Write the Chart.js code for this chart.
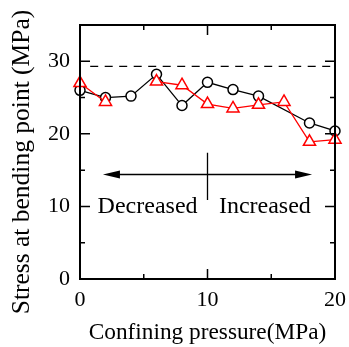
<!DOCTYPE html>
<html>
<head>
<meta charset="utf-8">
<script src="https://cdn.jsdelivr.net/npm/chart.js@4/dist/chart.umd.min.js"></script>
<style>
html,body{margin:0;padding:0;background:#fff;}
#wrap{width:349px;height:347px;position:relative;}
</style>
</head>
<body>
<div id="wrap"><canvas id="c" width="349" height="347"></canvas></div>
<script>
const pressure = [0, 2, 4, 6, 8, 10, 12, 14, 16, 18, 20];
const circleStress = [26.0, 25.0, 25.2, 28.2, 23.9, 27.1, 26.1, 25.2, null, 21.5, 20.4];
const triangleStress = [27.0, 24.4, null, 27.2, 26.7, 24.1, 23.5, 24.0, 24.4, 18.9, 19.2];
const referenceLine = [{x: 0.8, y: 29.3}, {x: 20, y: 29.3}];
const xTickLabels = [0, 10, 20];
const yTickLabels = [0, 10, 20, 30];
const xTitle = 'Confining pressure(MPa)';
const yTitle = 'Stress at bending point (MPa)';
const leftNote = 'Decreased';
const rightNote = 'Increased';

const FONT = "'Liberation Serif', 'Times New Roman', serif";

function toPoints(xs, ys) {
  return xs.map((x, i) => ({x: x, y: ys[i]}));
}

const framePlugin = {
  id: 'framePlugin',
  afterDatasetsDraw(chart) {
    const ctx = chart.ctx;
    const xs = chart.scales.x, ys = chart.scales.y;
    const a = chart.chartArea;
    ctx.save();
    ctx.strokeStyle = '#000';
    ctx.lineWidth = 1.5;
    for (let v = 5; v < 20; v += 5) {
      const px = xs.getPixelForValue(v);
      const len = v % 10 === 0 ? 10 : 5;
      ctx.beginPath();
      ctx.moveTo(px, a.bottom); ctx.lineTo(px, a.bottom - len);
      ctx.moveTo(px, a.top); ctx.lineTo(px, a.top + len);
      ctx.stroke();
    }
    for (let v = 5; v < 35; v += 5) {
      const py = ys.getPixelForValue(v);
      const len = v % 10 === 0 ? 10 : 5;
      ctx.beginPath();
      ctx.moveTo(a.left, py); ctx.lineTo(a.left + len, py);
      ctx.moveTo(a.right, py); ctx.lineTo(a.right - len, py);
      ctx.stroke();
    }
    ctx.lineWidth = 2;
    ctx.strokeRect(a.left, a.top, a.right - a.left, a.bottom - a.top);

    const yA = ys.getPixelForValue(14.4);
    const x1 = xs.getPixelForValue(1.8), x2 = xs.getPixelForValue(18.2);
    const xm = xs.getPixelForValue(10);
    ctx.lineWidth = 1.3;
    ctx.beginPath();
    ctx.moveTo(x1 + 10, yA); ctx.lineTo(x2 - 10, yA);
    ctx.moveTo(xm, ys.getPixelForValue(17.4)); ctx.lineTo(xm, ys.getPixelForValue(10.9));
    ctx.stroke();
    ctx.fillStyle = '#000';
    ctx.beginPath();
    ctx.moveTo(x1, yA); ctx.lineTo(x1 + 17, yA - 4); ctx.lineTo(x1 + 17, yA + 4); ctx.closePath();
    ctx.fill();
    ctx.beginPath();
    ctx.moveTo(x2, yA); ctx.lineTo(x2 - 17, yA - 4); ctx.lineTo(x2 - 17, yA + 4); ctx.closePath();
    ctx.fill();

    ctx.font = '24px ' + FONT;
    ctx.textAlign = 'center';
    ctx.textBaseline = 'alphabetic';
    const yT = ys.getPixelForValue(9.1);
    ctx.fillText(leftNote, xs.getPixelForValue(5.3), yT);
    ctx.fillText(rightNote, xs.getPixelForValue(14.5), yT);

    ctx.save();
    ctx.translate(22, (a.top + a.bottom) / 2 + 10);
    ctx.rotate(-Math.PI / 2);
    ctx.font = '25.5px ' + FONT;
    ctx.textAlign = 'center';
    ctx.textBaseline = 'middle';
    ctx.fillText(yTitle, 0, 0);
    ctx.restore();
    ctx.restore();
  }
};

new Chart(document.getElementById('c'), {
  type: 'line',
  data: {
    datasets: [
      {
        label: 'triangles',
        data: toPoints(pressure, triangleStress),
        borderColor: '#ff0000',
        backgroundColor: '#ffffff',
        borderWidth: 1.3,
        pointStyle: 'triangle',
        pointRadius: 7,
        pointBorderWidth: 1.5,
        pointBorderColor: '#ff0000',
        pointBackgroundColor: '#ffffff',
        spanGaps: false,
        tension: 0,
        clip: false,
        order: 1
      },
      {
        label: 'circles',
        data: toPoints(pressure, circleStress),
        borderColor: '#000000',
        backgroundColor: '#ffffff',
        borderWidth: 1.3,
        pointStyle: 'circle',
        pointRadius: 5,
        pointBorderWidth: 1.5,
        pointBorderColor: '#000000',
        pointBackgroundColor: '#ffffff',
        spanGaps: true,
        tension: 0,
        clip: false,
        order: 2
      },
      {
        label: 'reference',
        data: referenceLine,
        borderColor: '#000000',
        borderWidth: 1.3,
        borderDash: [8, 6.5],
        pointRadius: 0,
        tension: 0,
        order: 3
      }
    ]
  },
  options: {
    responsive: false,
    animation: false,
    devicePixelRatio: 1,
    layout: {padding: {top: 25, right: 14, left: 0, bottom: 0}},
    plugins: {legend: {display: false}, tooltip: {enabled: false}},
    scales: {
      x: {
        type: 'linear',
        min: 0, max: 20,
        afterBuildTicks(s) { s.ticks = xTickLabels.map(v => ({value: v})); },
        afterFit(s) { s.height = 68; s.paddingLeft = 0; s.paddingRight = 0; },
        grid: {display: false, drawTicks: false},
        border: {display: false},
        ticks: {
          color: '#000', padding: 8, maxRotation: 0,
          font: {family: FONT, size: 22}
        },
        title: {
          display: true, text: xTitle, color: '#000',
          font: {family: FONT, size: 23.3, lineHeight: 1.2},
          padding: {top: 0, bottom: 0}
        }
      },
      y: {
        type: 'linear',
        min: 0, max: 35,
        afterBuildTicks(s) { s.ticks = yTickLabels.map(v => ({value: v})); },
        afterFit(s) { s.width = 80; s.paddingTop = 0; s.paddingBottom = 0; },
        grid: {display: false, drawTicks: false},
        border: {display: false},
        ticks: {
          color: '#000', padding: 10,
          font: {family: FONT, size: 22}
        },
        title: {display: false}
      }
    }
  },
  plugins: [framePlugin]
});
</script>
</body>
</html>
